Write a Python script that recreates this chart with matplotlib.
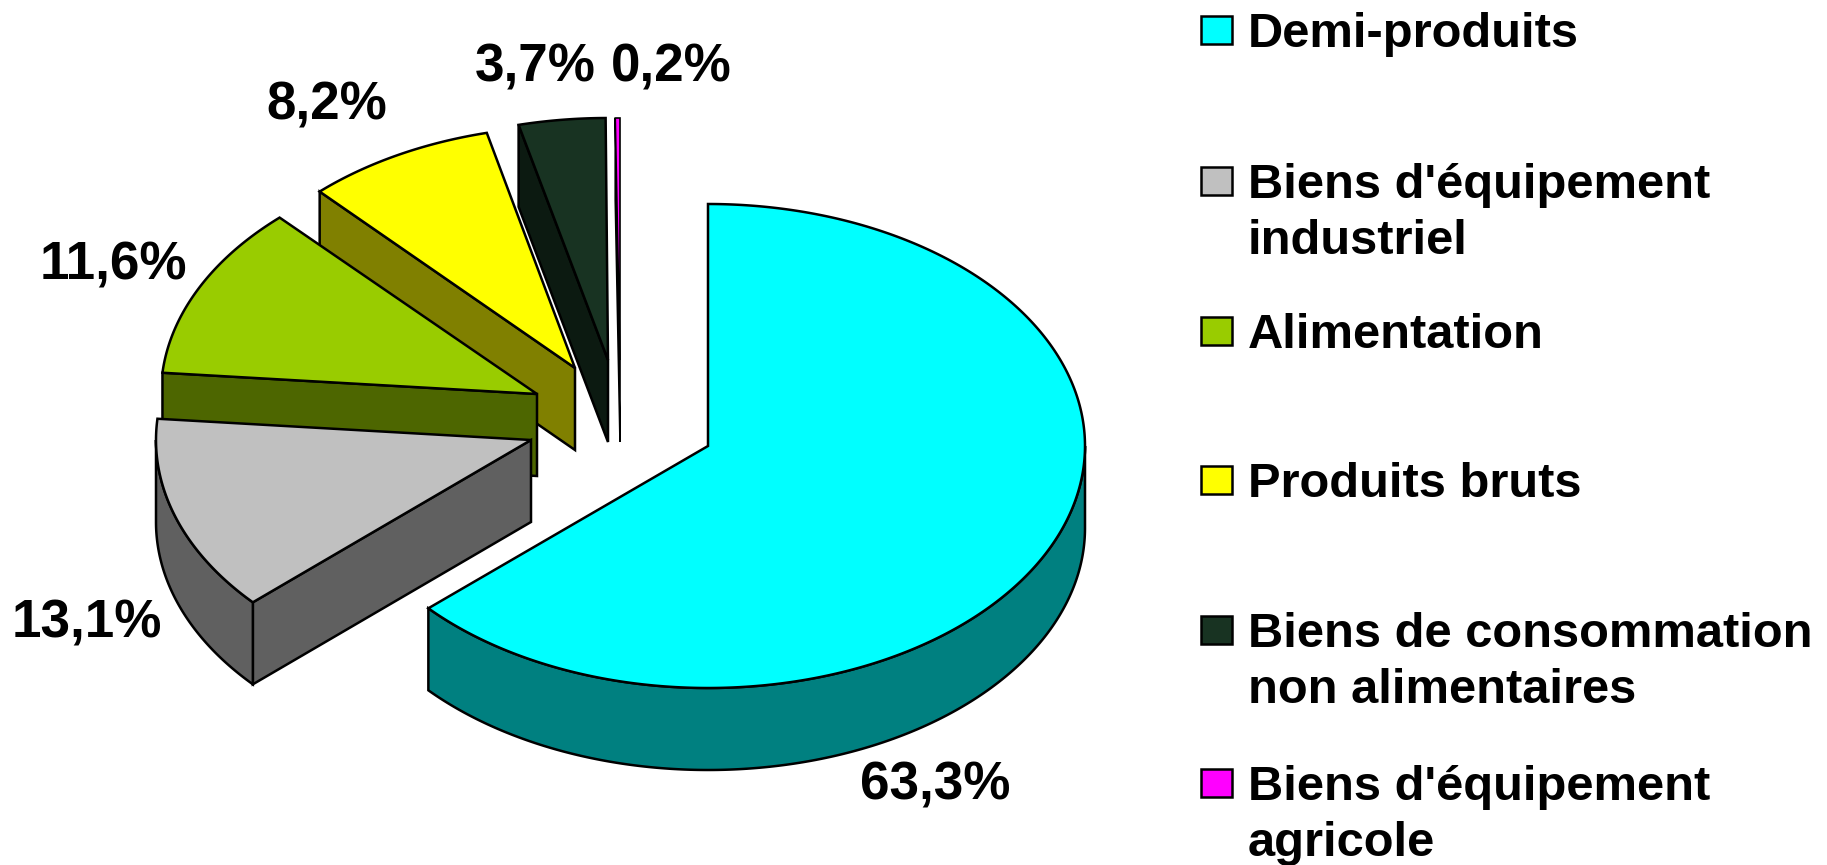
import numpy as np
import matplotlib
matplotlib.use("Agg")
import matplotlib.pyplot as plt
from matplotlib.patches import Polygon, Rectangle

plt.rcParams['font.family'] = ['Liberation Sans', 'DejaVu Sans']

# donnees
categories = ["Demi-produits", "Biens d'équipement\nindustriel", "Alimentation",
              "Produits bruts", "Biens de consommation\nnon alimentaires",
              "Biens d'équipement\nagricole"]
valeurs = [63.3, 13.1, 11.6, 8.2, 3.7, 0.2]
couleurs = ["#00FFFF", "#C0C0C0", "#99CC00", "#FFFF00", "#183322", "#FF00FF"]
couleurs_cote = ["#008080", "#606060", "#4D6600", "#808000", "#0C1A11", "#800080"]

# mise en page (pixels)
centres_x = [708, 531, 537, 575, 608, 620]
centres_y = [446, 440, 394, 368, 360, 360]
rayons_x = [377, 375, 376, 373, 378, 378]
traits = [1.8, 1.8, 1.8, 1.8, 1.8, 1.2]
ry, epaisseur = 242, 82
etiquettes_x = [935, 87, 113, 327, 535, 671]
etiquettes_y = [786, 624, 266, 106, 68, 68]
legende_y = [30, 181, 331, 480, 630, 783]

fig = plt.figure(figsize=(18.27, 8.65), dpi=100)
ax = fig.add_axes([0, 0, 1, 1])
ax.set_xlim(0, 1827)
ax.set_ylim(865, 0)
ax.axis("off")


def arc(cx, cy, rx, a1, a2):
    # angle en degres, sens horaire depuis le haut
    t = np.radians(np.linspace(a1, a2, max(int(abs(a2 - a1) * 2), 2)))
    return np.column_stack([cx + rx * np.sin(t), cy - ry * np.cos(t)])


# les valeurs font 100,1 % : la derniere part se termine a 360 degres
parts = np.array(valeurs) / 100 * 360
fins = np.minimum(np.cumsum(parts), 360)
debuts = np.concatenate([[0], fins[:-1]])
debuts[-1] = 360 - parts[-1]
bas = np.array([0, epaisseur])

# du fond vers l'avant
for i in [5, 4, 3, 2, 1, 0]:
    cx, cy, rx = centres_x[i], centres_y[i], rayons_x[i]
    a1, a2 = debuts[i], fins[i]
    kw = dict(edgecolor="black", linewidth=traits[i], joinstyle="miter")

    # face de coupe
    p0 = np.array([cx, cy])
    p1 = arc(cx, cy, rx, a1, a1 + 0.01)[0]
    face = [p0, p1, p1 + bas, p0 + bas]
    ax.add_patch(Polygon(face, facecolor=couleurs_cote[i], **kw))

    # paroi exterieure
    b1, b2 = max(a1, 90), min(a2, 270)
    if b2 > b1:
        pts = arc(cx, cy, rx, b1, b2)
        paroi = np.vstack([pts, pts[::-1] + bas])
        ax.add_patch(Polygon(paroi, facecolor=couleurs_cote[i], **kw))

    # dessus
    dessus = np.vstack([[cx, cy], arc(cx, cy, rx, a1, a2)])
    ax.add_patch(Polygon(dessus, facecolor=couleurs[i], **kw))

# pourcentages
for v, x, y in zip(valeurs, etiquettes_x, etiquettes_y):
    ax.text(x, y, f"{v:.1f}%".replace(".", ","), fontsize=38.2, fontweight="bold",
            ha="center", va="center")

# legende
for nom, c, y in zip(categories, couleurs, legende_y):
    ax.add_patch(Rectangle((1201, y - 14), 31, 28, facecolor=c, edgecolor="black", linewidth=1.8))
    for j, ligne in enumerate(nom.split("\n")):
        ax.text(1248, y + 17 + j * 56, ligne, fontsize=35.2, fontweight="bold",
                ha="left", va="baseline")

fig.savefig("out.png", dpi=100)
